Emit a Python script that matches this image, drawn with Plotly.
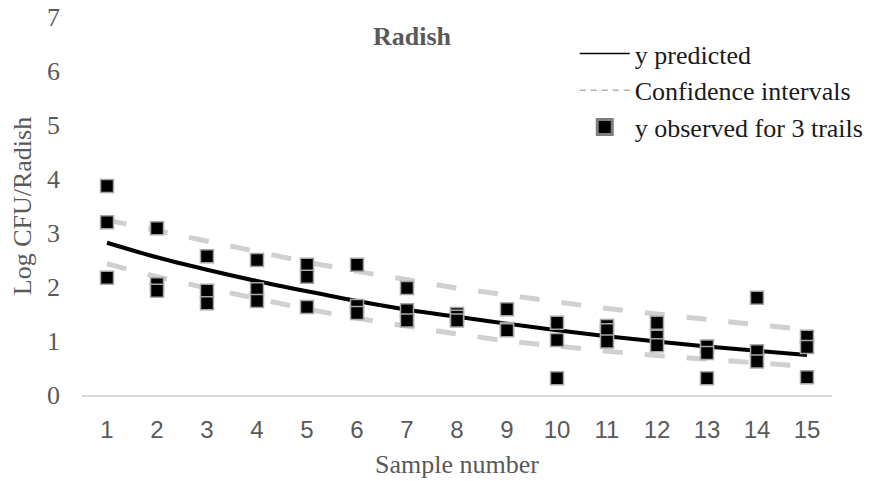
import plotly.graph_objects as go

samples = list(range(1, 16))
tick_labels = [str(s) for s in samples]

# observed values, 3 trials per sample
obs_trial1 = [3.87, 3.09, 2.57, 2.50, 2.41, 2.41, 1.98, 1.50, 1.59, 1.34, 1.28, 1.34, 0.90, 1.80, 1.08]
obs_trial2 = [3.20, 2.05, 1.93, 1.96, 2.19, 1.65, 1.57, 1.45, 1.22, 1.02, 1.20, 1.08, 0.78, 0.81, 0.89]
obs_trial3 = [2.17, 1.93, 1.70, 1.74, 1.63, 1.52, 1.38, 1.38, 1.20, 0.31, 0.99, 0.92, 0.31, 0.62, 0.33]

y_predicted = [2.82, 2.55, 2.32, 2.11, 1.92, 1.74, 1.58, 1.45, 1.32, 1.20, 1.09, 0.99, 0.90, 0.82, 0.74]
ci_upper = [3.24, 3.04, 2.84, 2.65, 2.46, 2.29, 2.13, 1.98, 1.85, 1.72, 1.60, 1.50, 1.39, 1.30, 1.21]
ci_lower = [2.43, 2.19, 1.98, 1.78, 1.59, 1.42, 1.27, 1.13, 1.00, 0.90, 0.81, 0.73, 0.66, 0.59, 0.53]

SERIF = "Liberation Serif"
SANS = "Liberation Sans"
GRAY_TXT = "#595959"

fig = go.Figure()

# confidence intervals
for ci in (ci_upper, ci_lower):
    fig.add_trace(go.Scatter(x=samples, y=ci, mode="lines",
                             line=dict(color="#d0d0d0", width=5, dash="20px,22px"),
                             showlegend=False, hoverinfo="skip"))

# predicted
fig.add_trace(go.Scatter(x=samples, y=y_predicted, mode="lines",
                         line=dict(color="#000000", width=4, shape="spline"),
                         showlegend=False))

# observed
xs = samples * 3
ys = obs_trial1 + obs_trial2 + obs_trial3
fig.add_trace(go.Scatter(x=xs, y=ys, mode="markers",
                         marker=dict(symbol="square", size=13, color="#000000",
                                     line=dict(color="#a6a6a6", width=1.5)),
                         showlegend=False))

# legend-only entries
fig.add_trace(go.Scatter(x=[None], y=[None], mode="lines", name="y predicted",
                         line=dict(color="#000000", width=1.5), legendgroup="a"))
fig.add_trace(go.Scatter(x=[None], y=[None], mode="lines", name="Confidence intervals",
                         line=dict(color="#b0b0b0", width=1.5, dash="6px,5px"), legendgroup="b"))
fig.add_trace(go.Scatter(x=[None], y=[None], mode="markers", name="y observed for 3 trails",
                         marker=dict(symbol="square", size=15, color="#000000",
                                     line=dict(color="#7f7f7f", width=3)), legendgroup="c"))

fig.update_layout(
    width=870, height=481,
    paper_bgcolor="white", plot_bgcolor="white",
    margin=dict(l=82, r=38, t=17, b=86, autoexpand=False),
    title=dict(text="<b>Radish</b>", x=412 / 870, y=1 - 36 / 481, xanchor="center", yanchor="middle",
               font=dict(family=SERIF, size=26, color=GRAY_TXT)),
    xaxis=dict(range=[0.5, 15.5], tickmode="array", tickvals=samples, ticktext=tick_labels,
               showgrid=False, zeroline=False, showline=True, linecolor="#d9d9d9", linewidth=1.5,
               ticks="", ticklabelstandoff=12,
               tickfont=dict(family=SANS, size=24, color=GRAY_TXT),
               title=dict(text="Sample number", standoff=13,
                          font=dict(family=SERIF, size=26, color=GRAY_TXT))),
    yaxis=dict(range=[0, 7], tickvals=list(range(0, 8)), showgrid=False, zeroline=False,
               showline=False, ticks="", ticklabelstandoff=21,
               tickfont=dict(family=SERIF, size=26, color=GRAY_TXT),
               title=dict(text="Log CFU/Radish", standoff=7,
                          font=dict(family=SERIF, size=26, color=GRAY_TXT))),
    legend=dict(x=0.657, y=1 - (30 - 17) / 378, xanchor="left", yanchor="top",
                font=dict(family=SERIF, size=26, color="#1a1a1a"),
                itemwidth=50, tracegroupgap=0, bgcolor="rgba(0,0,0,0)"),
    showlegend=True,
)

fig.write_html("out.html")
